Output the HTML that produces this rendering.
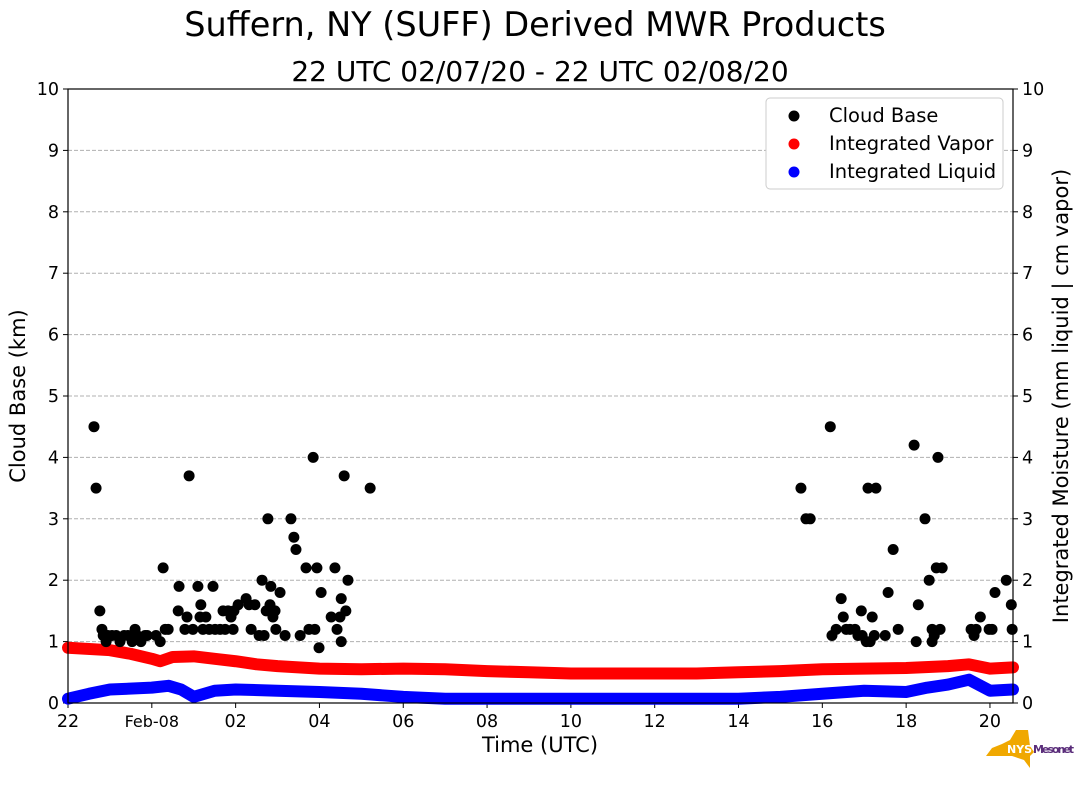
<!DOCTYPE html>
<html><head><meta charset="utf-8"><style>
body{margin:0;background:#fff;font-family:"DejaVu Sans","Liberation Sans",sans-serif}
svg text{font-family:"DejaVu Sans","Liberation Sans",sans-serif}
</style></head><body>
<svg id="c" width="1089" height="804"></svg>
<script>
const cbHours=[0.62,0.67,0.76,0.81,0.84,0.91,0.95,1.05,1.15,1.24,1.34,1.43,1.53,1.60,1.65,1.74,1.84,1.89,2.10,2.20,2.27,2.32,2.39,2.63,2.65,2.79,2.84,2.89,2.98,3.10,3.15,3.17,3.22,3.29,3.37,3.46,3.51,3.63,3.70,3.75,3.82,3.89,3.94,3.96,4.06,4.25,4.32,4.37,4.46,4.56,4.63,4.68,4.73,4.77,4.82,4.84,4.89,4.94,4.96,5.06,5.18,5.32,5.39,5.44,5.54,5.68,5.75,5.85,5.89,5.94,5.99,6.04,6.28,6.37,6.42,6.49,6.52,6.52,6.59,6.63,6.68,7.21,
17.49,17.61,17.71,18.19,18.23,18.33,18.45,18.50,18.57,18.66,18.78,18.85,18.93,18.95,19.05,19.09,19.14,19.19,19.24,19.28,19.50,19.57,19.69,19.81,20.19,20.24,20.29,20.45,20.55,20.62,20.62,20.67,20.72,20.76,20.81,20.86,21.55,21.62,21.67,21.77,21.98,22.05,22.12,22.39,22.51,22.53];
const cbValues=[4.5,3.5,1.5,1.2,1.1,1.0,1.1,1.1,1.1,1.0,1.1,1.1,1.0,1.2,1.1,1.0,1.1,1.1,1.1,1.0,2.2,1.2,1.2,1.5,1.9,1.2,1.4,3.7,1.2,1.9,1.4,1.6,1.2,1.4,1.2,1.9,1.2,1.2,1.5,1.2,1.5,1.4,1.2,1.5,1.6,1.7,1.6,1.2,1.6,1.1,2.0,1.1,1.5,3.0,1.6,1.9,1.4,1.5,1.2,1.8,1.1,3.0,2.7,2.5,1.1,2.2,1.2,4.0,1.2,2.2,0.9,1.8,1.4,2.2,1.2,1.4,1.7,1.0,3.7,1.5,2.0,3.5,
3.5,3.0,3.0,4.5,1.1,1.2,1.7,1.4,1.2,1.2,1.2,1.1,1.5,1.1,1.0,3.5,1.0,1.4,1.1,3.5,1.1,1.8,2.5,1.2,4.2,1.0,1.6,3.0,2.0,1.0,1.2,1.1,2.2,4.0,1.2,2.2,1.2,1.1,1.2,1.4,1.2,1.2,1.8,2.0,1.6,1.2];
const vapHours=[0,1,1.5,2,2.2,2.5,3,3.5,4,4.5,5,6,7,8,9,10,11,12,13,14,15,16,17,18,19,20,21,21.5,22,22.55];
const vapValues=[0.9,0.86,0.8,0.72,0.68,0.75,0.76,0.72,0.68,0.63,0.6,0.56,0.55,0.56,0.55,0.52,0.5,0.48,0.48,0.48,0.48,0.5,0.52,0.55,0.56,0.57,0.6,0.63,0.56,0.58];
const liqHours=[0,0.5,1,2,2.4,2.7,3,3.5,4,5,6,7,8,9,10,12,14,16,17,18,19,20,20.5,21,21.5,22,22.55];
const liqValues=[0.07,0.15,0.22,0.25,0.28,0.22,0.1,0.2,0.22,0.2,0.18,0.15,0.1,0.07,0.07,0.07,0.07,0.07,0.1,0.15,0.2,0.18,0.25,0.3,0.38,0.2,0.22];
const xTickHours=[0,2,4,6,8,10,12,14,16,18,20,22];
const xTickLabels=["22","Feb-08","02","04","06","08","10","12","14","16","18","20"];
const yTicks=[0,1,2,3,4,5,6,7,8,9,10];

const L=68,R=1013,T=89,B=703,XMAX=22.55;
const X=h=>L+h/XMAX*(R-L), Y=v=>B-v/10*(B-T);
const svg=document.getElementById('c'),NS='http://www.w3.org/2000/svg';
function el(t,a,p){const e=document.createElementNS(NS,t);for(const k in a)e.setAttribute(k,a[k]);(p||svg).appendChild(e);return e;}
function txt(s,a,p){const e=el('text',a,p);e.textContent=s;return e;}

let e;
e=txt('Suffern, NY (SUFF) Derived MWR Products',{x:535,y:36,'font-size':33.5,'text-anchor':'middle'});


e=txt('22 UTC 02/07/20 - 22 UTC 02/08/20',{x:540,y:81,'font-size':28,'text-anchor':'middle'});



const grid=el('g',{});


yTicks.forEach(v=>{
  if(v>0&&v<10) el('line',{x1:L,x2:R,y1:Y(v),y2:Y(v),stroke:'#b0b0b0','stroke-dasharray':'4,2','stroke-width':1},grid);
  el('line',{x1:L-5,x2:L,y1:Y(v),y2:Y(v),stroke:'#000'});
  el('line',{x1:R,x2:R+5,y1:Y(v),y2:Y(v),stroke:'#000'});
  e=txt(String(v),{x:L-9,y:Y(v)+6,'font-size':17.5,'text-anchor':'end'});
  
  
  e=txt(String(v),{x:R+9,y:Y(v)+6,'font-size':17.5});
  
  
});
xTickHours.forEach((h,i)=>{
  el('line',{x1:X(h),x2:X(h),y1:B,y2:B+5,stroke:'#000'});
  e=txt(xTickLabels[i],{x:X(h),y:B+24,'font-size':i==1?16:17.5,'text-anchor':'middle'});
  
  
});

function line(hs,vs,col,name){
  const pts=hs.map((h,i)=>X(h)+','+Y(vs[i])).join(' ');
  const p=el('polyline',{points:pts,fill:'none',stroke:col,'stroke-width':12,'stroke-linejoin':'round','stroke-linecap':'round'});
  
  
}
line(vapHours,vapValues,'#ff0000','integrated-vapor-series');
line(liqHours,liqValues,'#0000ff','integrated-liquid-series');
const cg=el('g',{});


cbHours.forEach((h,i)=>{const c=el('circle',{cx:X(h),cy:Y(cbValues[i]),r:5.5,fill:'#000'},cg);
  
  });

e=el('rect',{x:L,y:T,width:R-L,height:B-T,fill:'none',stroke:'#000','stroke-width':1.2});



e=txt('Time (UTC)',{x:540,y:752,'font-size':21,'text-anchor':'middle'});


e=txt('Cloud Base (km)',{x:0,y:0,'font-size':21,'text-anchor':'middle',transform:'translate(25,396) rotate(-90)'});


e=txt('Integrated Moisture (mm liquid | cm vapor)',{x:0,y:0,'font-size':21,'text-anchor':'middle',transform:'translate(1068,396) rotate(-90)'});



const lg=el('g',{});


el('rect',{x:766,y:98,width:237,height:91,rx:4,fill:'#fff',stroke:'#ccc'},lg);
[['Cloud Base','#000'],['Integrated Vapor','#f00'],['Integrated Liquid','#00f']].forEach((d,i)=>{
  el('circle',{cx:794,cy:116+i*28,r:5.5,fill:d[1]},lg);
  e=txt(d[0],{x:829,y:122+i*28,'font-size':19.5},lg);
  
  
});

const lo=el('g',{});


el('polygon',{points:'1002,744 1010,740 1016,730 1028,730 1030,746 1034,752 1030,756 1030,768 1024,760 1012,756 986,756 992,748',fill:'#f0a800'},lo);
txt('NYS',{x:1007,y:753,'font-size':11,'font-weight':'bold',fill:'#fff'},lo);
txt('Mesonet',{x:1033,y:753,'font-size':11,'font-weight':'bold',fill:'#5a2d7a',textLength:41}).parentNode;
</script>
</body></html>
